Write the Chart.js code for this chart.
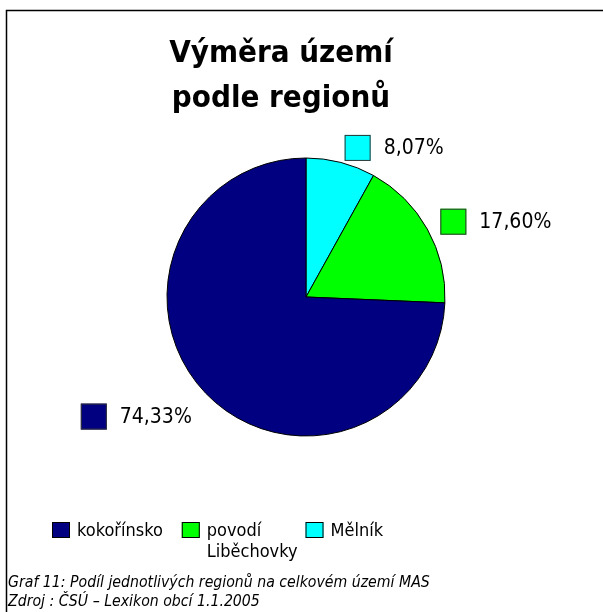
<!DOCTYPE html>
<html>
<head>
<meta charset="utf-8">
<script src="https://cdn.jsdelivr.net/npm/chart.js@4.4.1/dist/chart.umd.min.js"></script>
<style>
  html, body { margin: 0; padding: 0; background: #fff; }
  #wrap { position: relative; width: 603px; height: 612px; overflow: hidden; }
  #caption {
    position: absolute; left: 8px; top: 572px;
    font-family: 'DejaVu Sans Condensed', 'DejaVu Sans', sans-serif;
    font-style: italic; font-size: 15.7px; line-height: 19px; color: #000;
  }
</style>
</head>
<body>
<div id="wrap">
  <canvas id="pie-chart" width="603" height="612"></canvas>
  <div id="caption">Graf 11: Podíl jednotlivých regionů na celkovém území MAS<br>Zdroj : ČSÚ – Lexikon obcí 1.1.2005</div>
</div>
<script>
// Data
// ------------------------------
const titleLines = ["Výměra území", "podle regionů"];
const regions = ["Mělník", "povodí Liběchovky", "kokořínsko"];
const areaShare = [8.07, 17.60, 74.33];
const regionColors = ['#00FFFF', '#00FF00', '#000080'];

const fontFamily = "'DejaVu Sans Condensed', 'DejaVu Sans', sans-serif";

// frame + title drawn behind the chart
const framePlugin = {
    id: 'frame',
    beforeDraw(chart) {
        const ctx = chart.ctx;
        ctx.save();
        ctx.fillStyle = '#fff';
        ctx.fillRect(0, 0, chart.width, chart.height);
        ctx.strokeStyle = '#000';
        ctx.lineWidth = 1.5;
        ctx.beginPath();
        ctx.moveTo(chart.width, 10.5);
        ctx.lineTo(6.5, 10.5);
        ctx.lineTo(6.5, chart.height);
        ctx.stroke();

        ctx.fillStyle = '#000';
        ctx.font = "bold 31px " + fontFamily;
        ctx.textAlign = 'center';
        ctx.textBaseline = 'alphabetic';
        titleLines.forEach(function(line, i) {
            ctx.fillText(line, 281, 62 + i * 45);
        });
        ctx.restore();
    }
};

// percentage labels with a colour square, outside each slice
const sliceLabelPlugin = {
    id: 'sliceLabels',
    afterDatasetsDraw(chart) {
        const ctx = chart.ctx;
        const meta = chart.getDatasetMeta(0);
        const values = chart.data.datasets[0].data;
        const total = values.reduce(function(a, b) { return a + b; }, 0);
        const box = 26, gap = 13;
        ctx.save();
        ctx.font = "21px " + fontFamily;
        ctx.textBaseline = 'middle';
        meta.data.forEach(function(arc, i) {
            const p = arc.getProps(['x', 'y', 'startAngle', 'endAngle', 'outerRadius'], true);
            const mid = (p.startAngle + p.endAngle) / 2;
            const d = p.outerRadius + 15;
            const ax = p.x + Math.cos(mid) * d;
            const ay = p.y + Math.sin(mid) * d;
            const text = (values[i] / total * 100).toFixed(2).replace('.', ',') + '%';
            const tw = ctx.measureText(text).width;
            const boxTop = Math.sin(mid) > 0 ? ay : ay - box / 2;
            let boxLeft;
            if (Math.cos(mid) >= 0) {
                boxLeft = ax;
            } else {
                boxLeft = ax - tw - gap - box - 3;
            }
            ctx.fillStyle = regionColors[i];
            ctx.fillRect(boxLeft, boxTop, box, box);
            ctx.strokeStyle = '#333';
            ctx.lineWidth = 1;
            ctx.strokeRect(boxLeft + 0.5, boxTop + 0.5, box - 1, box - 1);
            ctx.fillStyle = '#000';
            ctx.textAlign = 'left';
            ctx.fillText(text, boxLeft + box + gap, boxTop + box / 2 + 1);
        });
        ctx.restore();
    }
};

// legend at the bottom, in reverse data order, long names wrap
const bottomLegendPlugin = {
    id: 'bottomLegend',
    afterDraw(chart) {
        const ctx = chart.ctx;
        const labels = chart.data.labels;
        const colors = chart.data.datasets[0].backgroundColor;
        const maxText = 95, lineH = 21, bw = 18, bh = 16;
        const gaps = [19, 8];
        let x = 52;
        const top = 522;
        ctx.save();
        ctx.font = "18px " + fontFamily;
        ctx.textBaseline = 'middle';
        ctx.textAlign = 'left';
        let n = 0;
        for (let i = labels.length - 1; i >= 0; i--, n++) {
            // wrap words
            const words = labels[i].split(' ');
            const lines = [];
            let cur = '';
            words.forEach(function(w) {
                const test = cur ? cur + ' ' + w : w;
                if (cur && ctx.measureText(test).width > maxText) {
                    lines.push(cur);
                    cur = w;
                } else {
                    cur = test;
                }
            });
            lines.push(cur);

            ctx.fillStyle = colors[i];
            ctx.fillRect(x, top, bw, bh);
            ctx.strokeStyle = '#000';
            ctx.lineWidth = 1;
            ctx.strokeRect(x + 0.5, top + 0.5, bw - 1, bh - 1);

            ctx.fillStyle = '#000';
            let w = 0;
            lines.forEach(function(line, j) {
                ctx.fillText(line, x + bw + 7, top + bh / 2 + 1 + j * lineH);
                w = Math.max(w, ctx.measureText(line).width);
            });
            x += bw + 7 + w + (gaps[n] || 14);
        }
        ctx.restore();
    }
};

var ctx = document.getElementById('pie-chart');

var chartData = {
    labels: regions,
    datasets: [{
        data: areaShare,
        backgroundColor: regionColors,
        borderColor: '#000',
        borderWidth: 1
    }]
};

var chartOptions = {
    responsive: false,
    animation: false,
    radius: 139,
    rotation: 0,
    layout: {
        padding: { left: 9, right: 0, top: 150, bottom: 168 }
    },
    plugins: {
        legend: { display: false },
        title: { display: false },
        tooltip: { enabled: false }
    }
};

var pieChart = new Chart(ctx, {
    type: 'pie',
    data: chartData,
    options: chartOptions,
    plugins: [framePlugin, sliceLabelPlugin, bottomLegendPlugin]
});
</script>
</body>
</html>
